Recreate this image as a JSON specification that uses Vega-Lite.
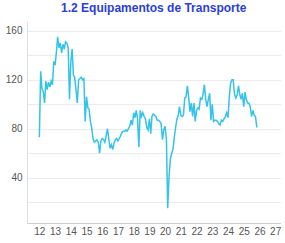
{
  "$schema": "https://vega.github.io/schema/vega-lite/v6.json",
  "width": 253.5,
  "height": 202,
  "autosize": "none",
  "padding": {"left": 27, "top": 21, "right": 4.5, "bottom": 20},
  "background": "white",
  "title": {
    "text": "1.2 Equipamentos de Transporte",
    "color": "#2B3ED6",
    "font": "Liberation Sans",
    "fontSize": 12,
    "fontWeight": "bold",
    "anchor": "middle",
    "offset": 6
  },
  "data": {
    "values": [
      {"d":"2012-01","v":73},{"d":"2012-02","v":127},{"d":"2012-03","v":113},{"d":"2012-04","v":110},{"d":"2012-05","v":101},{"d":"2012-06","v":119},{"d":"2012-07","v":112},{"d":"2012-08","v":118},{"d":"2012-09","v":114},{"d":"2012-10","v":119},{"d":"2012-11","v":116},{"d":"2012-12","v":135},
      {"d":"2013-01","v":132},{"d":"2013-02","v":143},{"d":"2013-03","v":155},{"d":"2013-04","v":146},{"d":"2013-05","v":150},{"d":"2013-06","v":142},{"d":"2013-07","v":149},{"d":"2013-08","v":145},{"d":"2013-09","v":151},{"d":"2013-10","v":150},{"d":"2013-11","v":146},{"d":"2013-12","v":104},
      {"d":"2014-01","v":135},{"d":"2014-02","v":145},{"d":"2014-03","v":124},{"d":"2014-04","v":122},{"d":"2014-05","v":112},{"d":"2014-06","v":101},{"d":"2014-07","v":120},{"d":"2014-08","v":121},{"d":"2014-09","v":122},{"d":"2014-10","v":120},{"d":"2014-11","v":121},{"d":"2014-12","v":86},
      {"d":"2015-01","v":106},{"d":"2015-02","v":97},{"d":"2015-03","v":96},{"d":"2015-04","v":86},{"d":"2015-05","v":81},{"d":"2015-06","v":72},{"d":"2015-07","v":69},{"d":"2015-08","v":70},{"d":"2015-09","v":71},{"d":"2015-10","v":69},{"d":"2015-11","v":60},{"d":"2015-12","v":70},
      {"d":"2016-01","v":72},{"d":"2016-02","v":71},{"d":"2016-03","v":69},{"d":"2016-04","v":74},{"d":"2016-05","v":80},{"d":"2016-06","v":72},{"d":"2016-07","v":64},{"d":"2016-08","v":67},{"d":"2016-09","v":63},{"d":"2016-10","v":68},{"d":"2016-11","v":71},{"d":"2016-12","v":72},
      {"d":"2017-01","v":70},{"d":"2017-02","v":72},{"d":"2017-03","v":74},{"d":"2017-04","v":77},{"d":"2017-05","v":78},{"d":"2017-06","v":78},{"d":"2017-07","v":79},{"d":"2017-08","v":78},{"d":"2017-09","v":80},{"d":"2017-10","v":82},{"d":"2017-11","v":87},{"d":"2017-12","v":83},
      {"d":"2018-01","v":93},{"d":"2018-02","v":89},{"d":"2018-03","v":95},{"d":"2018-04","v":88},{"d":"2018-05","v":65},{"d":"2018-06","v":95},{"d":"2018-07","v":90},{"d":"2018-08","v":93},{"d":"2018-09","v":90},{"d":"2018-10","v":88},{"d":"2018-11","v":81},{"d":"2018-12","v":79},
      {"d":"2019-01","v":88},{"d":"2019-02","v":76},{"d":"2019-03","v":90},{"d":"2019-04","v":92},{"d":"2019-05","v":91},{"d":"2019-06","v":90},{"d":"2019-07","v":87},{"d":"2019-08","v":87},{"d":"2019-09","v":86},{"d":"2019-10","v":84},{"d":"2019-11","v":71},{"d":"2019-12","v":79},
      {"d":"2020-01","v":82},{"d":"2020-02","v":71},{"d":"2020-03","v":15},{"d":"2020-04","v":41},{"d":"2020-05","v":55},{"d":"2020-06","v":60},{"d":"2020-07","v":63},{"d":"2020-08","v":73},{"d":"2020-09","v":81},{"d":"2020-10","v":88},{"d":"2020-11","v":91},{"d":"2020-12","v":98},
      {"d":"2021-01","v":91},{"d":"2021-02","v":90},{"d":"2021-03","v":91},{"d":"2021-04","v":105},{"d":"2021-05","v":106},{"d":"2021-06","v":115},{"d":"2021-07","v":106},{"d":"2021-08","v":94},{"d":"2021-09","v":101},{"d":"2021-10","v":90},{"d":"2021-11","v":101},{"d":"2021-12","v":86},
      {"d":"2022-01","v":95},{"d":"2022-02","v":97},{"d":"2022-03","v":96},{"d":"2022-04","v":105},{"d":"2022-05","v":104},{"d":"2022-06","v":108},{"d":"2022-07","v":116},{"d":"2022-08","v":104},{"d":"2022-09","v":98},{"d":"2022-10","v":104},{"d":"2022-11","v":109},{"d":"2022-12","v":87},
      {"d":"2023-01","v":100},{"d":"2023-02","v":86},{"d":"2023-03","v":87},{"d":"2023-04","v":87},{"d":"2023-05","v":86},{"d":"2023-06","v":84},{"d":"2023-07","v":83},{"d":"2023-08","v":87},{"d":"2023-09","v":86},{"d":"2023-10","v":88},{"d":"2023-11","v":90},{"d":"2023-12","v":93},
      {"d":"2024-01","v":89},{"d":"2024-02","v":106},{"d":"2024-03","v":117},{"d":"2024-04","v":120},{"d":"2024-05","v":120},{"d":"2024-06","v":108},{"d":"2024-07","v":105},{"d":"2024-08","v":108},{"d":"2024-09","v":115},{"d":"2024-10","v":108},{"d":"2024-11","v":104},{"d":"2024-12","v":109},
      {"d":"2025-01","v":98},{"d":"2025-02","v":110},{"d":"2025-03","v":104},{"d":"2025-04","v":101},{"d":"2025-05","v":101},{"d":"2025-06","v":98},{"d":"2025-07","v":90},{"d":"2025-08","v":95},{"d":"2025-09","v":91},{"d":"2025-10","v":90},{"d":"2025-11","v":81}
    ]
  },
  "mark": {"type": "line", "color": "#34C3EA", "strokeWidth": 1.5, "clip": true},
  "encoding": {
    "x": {
      "field": "d",
      "type": "temporal",
      "scale": {
        "type": "utc",
        "domain": [
          {"year": 2011, "month": 3, "date": 20, "utc": true},
          {"year": 2027, "month": 5, "date": 5, "utc": true}
        ]
      },
      "axis": {
        "title": null,
        "format": "%y",
        "values": [
          {"year": 2012, "utc": true},{"year": 2013, "utc": true},{"year": 2014, "utc": true},{"year": 2015, "utc": true},
          {"year": 2016, "utc": true},{"year": 2017, "utc": true},{"year": 2018, "utc": true},{"year": 2019, "utc": true},
          {"year": 2020, "utc": true},{"year": 2021, "utc": true},{"year": 2022, "utc": true},{"year": 2023, "utc": true},
          {"year": 2024, "utc": true},{"year": 2025, "utc": true},{"year": 2026, "utc": true},{"year": 2027, "utc": true}
        ],
        "grid": false,
        "ticks": false,
        "labelPadding": 3,
        "labelFont": "Liberation Sans",
        "labelFontSize": 10,
        "labelColor": "#555555",
        "labelOverlap": false,
        "labelFlush": false,
        "domainColor": "#cccccc",
        "domainWidth": 1
      }
    },
    "y": {
      "field": "v",
      "type": "quantitative",
      "scale": {"domain": [3, 168], "nice": false, "zero": false},
      "axis": {
        "title": null,
        "values": [20, 40, 60, 80, 100, 120, 140, 160],
        "labelExpr": "datum.value % 40 == 0 ? datum.label : ''",
        "grid": true,
        "gridColor": "#ebebeb",
        "gridWidth": 1,
        "ticks": false,
        "labelPadding": 5,
        "labelFont": "Liberation Sans",
        "labelFontSize": 10,
        "labelColor": "#555555",
        "domainColor": "#e0e0e0",
        "domainWidth": 1
      }
    }
  },
  "config": {"view": {"stroke": null}}
}
